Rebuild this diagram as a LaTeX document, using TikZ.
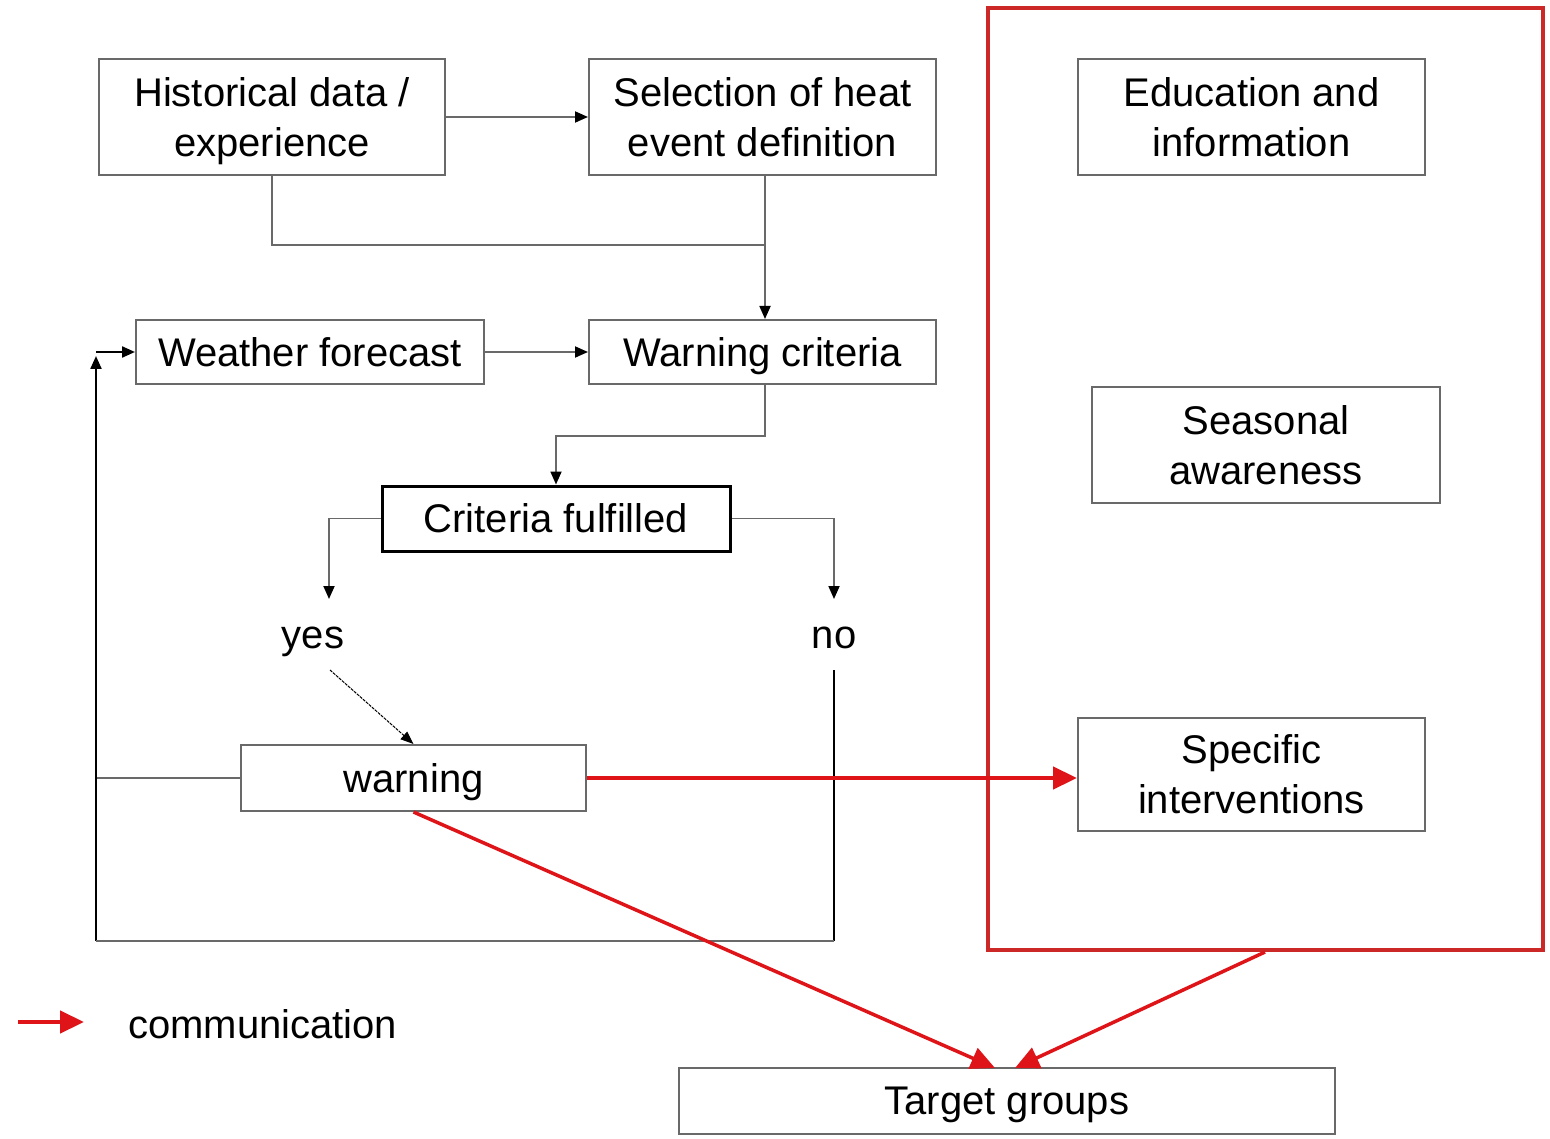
\documentclass[tikz,border=0pt]{standalone}
\usepackage{fontspec}
\setmainfont{Liberation Sans}
\usetikzlibrary{arrows.meta,positioning}
\definecolor{boxgray}{RGB}{105,105,105}
\definecolor{commred}{RGB}{222,20,24}
\definecolor{panelred}{RGB}{205,40,40}
\tikzset{
  box/.style={draw=boxgray, line width=2pt, fill=white, align=center, inner sep=0pt, text depth=0pt},
  blackbox/.style={draw=black, line width=3pt, fill=white, align=center, inner sep=0pt, text depth=0pt},
  conn/.style={draw=boxgray, line width=1.8pt},
  blk/.style={draw=black, line width=2.2pt},
  tip/.style={-{Triangle[length=13pt,width=11pt,color=black]}},
  comm/.style={draw=commred, line width=4.5pt, -{Triangle[length=24pt,width=22pt]}},
  lbl/.style={inner sep=0pt, align=center},
}
\begin{document}
\begin{tikzpicture}[x=1pt,y=-1pt, every node/.style={font=\fontsize{40}{50}\selectfont}]
\useasboundingbox (0,0) rectangle (1550,1139);
% red panel
\node[draw=panelred, line width=4pt, minimum width=555pt, minimum height=942pt, inner sep=0pt] (panel) at (1265.5,479) {};
% boxes
\node[box, minimum width=346pt, minimum height=116pt] (hist) at (272,117) {Historical data /\\experience};
\node[box, minimum width=347pt, minimum height=116pt] (sel) at (762.5,117) {Selection of heat\\event definition};
\node[box, minimum width=348pt, minimum height=64pt] (wf) at (310,352) {Weather forecast};
\node[box, minimum width=347pt, minimum height=64pt] (wc) at (762.5,352) {Warning criteria};
\node[blackbox, minimum width=348pt, minimum height=65pt] (cf) at (556,518.5) {Criteria fulfilled};
\node[lbl, anchor=base] (yes) at (313,648) {yes};
\node[lbl, anchor=base] (no) at (834,648) {no};
\node[box, minimum width=345pt, minimum height=66pt] (warn) at (413.5,778) {warning};
\node[box, minimum width=347pt, minimum height=116pt] (edu) at (1251.5,117) {Education and\\information};
\node[box, minimum width=348pt, minimum height=116pt] (sea) at (1266,445) {Seasonal\\awareness};
\node[box, minimum width=347pt, minimum height=113pt] (spec) at (1251.5,774.5) {Specific\\interventions};
\node[box, minimum width=656pt, minimum height=66pt] (tg) at (1007,1101) {Target groups};
\node[lbl, anchor=west] (comm) at (128,1024) {communication};
% coordinates
\coordinate (j1) at (765,245);
\coordinate (j2) at (765,436);
\coordinate (yesin) at (329,599);
\coordinate (noin) at (834,599);
\coordinate (yesout) at (330,670);
\coordinate (noout) at (834,670);
\coordinate (loopL) at (96,779);
\coordinate (loopB) at (96,941);
\coordinate (noB) at (834,941);
\coordinate (loopT) at (96,356);
\coordinate (tgA) at (995,1068);
\coordinate (tgB) at (1015,1068);
\coordinate (panelB) at (1265,952);
\coordinate (legA) at (18,1022);
\coordinate (legB) at (84,1022);
% connectors
\draw[conn, tip] (hist.east) -- (sel.west);
\draw[conn] (hist.south) |- (j1);
\draw[conn, tip] (sel.south -| j1) -- (wc.north -| j1);
\draw[conn, tip] (wf.east) -- (wc.west);
\draw[conn, tip] (wc.south -| j2) -- (j2) -| (cf.north);
\draw[conn, tip] (cf.west) -| (yesin);
\draw[conn, tip] (cf.east) -| (noin);
\draw[draw=black, line width=1pt, dash pattern=on 3pt off 1pt, -{Triangle[length=13pt,width=10pt]}] (yesout) -- (warn.north);
\draw[conn] (warn.west) -- (loopL |- warn.west);
\draw[blk, tip] (loopB) -- (loopT);
\draw[blk, tip] (loopT |- wf.west) -- (wf.west);
\draw[blk] (noout) -- (noB);
\draw[conn] (noB) -- (loopB);
% communication arrows
\draw[comm] (warn.east) -- (warn.east -| spec.west);
\draw[comm, line width=3.5pt] (warn.south) -- (tgA);
\draw[comm, line width=3.5pt] (panelB) -- (tgB);
\draw[comm] (legA) -- (legB);
\end{tikzpicture}
\end{document}
